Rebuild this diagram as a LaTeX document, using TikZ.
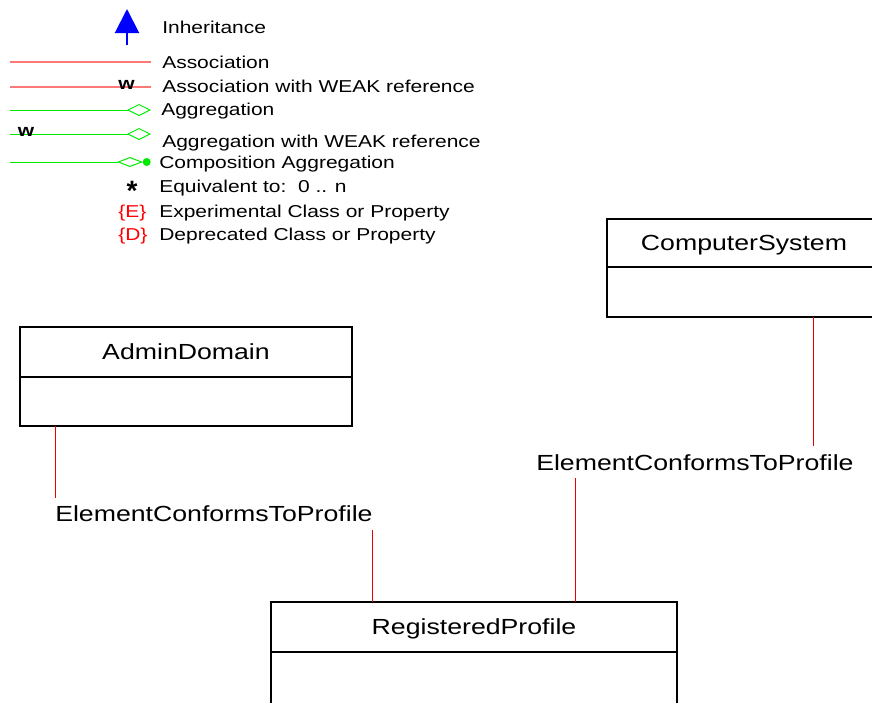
\documentclass[tikz,border=0pt]{standalone}
\usepackage{fontspec}
\setmainfont{Liberation Sans}
\usepackage{tikz}
\usetikzlibrary{arrows.meta,positioning}
\definecolor{assocred}{RGB}{235,0,0}
\definecolor{legred}{RGB}{255,120,120}
\definecolor{aggrgreen}{RGB}{0,235,0}
\newcommand{\hwide}[1]{\scalebox{1.22}[1]{#1}}
\newcommand{\clsfont}{\fontsize{16.4}{18}\selectfont}
\newcommand{\legfont}{\fontsize{12.9}{15}\selectfont}
\tikzset{
  clshead/.style={draw, line width=0.9pt, outer sep=0pt, inner sep=0pt, font=\clsfont, text height=11.8pt, text depth=0pt},
  clsbody/.style={draw, line width=0.9pt, outer sep=0pt, inner sep=0pt},
  assoc/.style={assocred, line width=0.6pt},
  assoclabel/.style={anchor=base west, inner xsep=0pt, inner ysep=6pt, font=\clsfont, text height=11.8pt, text depth=0pt},
  legtext/.style={anchor=base west, inner sep=0pt, font=\legfont},
  legw/.style={anchor=base, inner sep=0pt, font=\legfont\bfseries},
  leginh/.style={blue, line width=1.5pt, -{Triangle[length=18pt,width=18pt]}},
  legassoc/.style={legred, line width=0.8pt},
  legaggr/.style={aggrgreen, line width=0.75pt, -{Diamond[open,length=18pt,width=9pt]}},
  legcomp/.style={aggrgreen, line width=0.75pt, -{Diamond[open,length=19.5pt,width=7.5pt]}}
}

\begin{document}
\begin{tikzpicture}[x=0.75pt,y=-0.75pt]
  \useasboundingbox (0,0) rectangle (872,703);

  % legend
  \draw[leginh] (127,45) -- (127,9);
  \node[legtext] (lgInh) at (162,33) {\hwide{Inheritance}};
  \draw[legassoc] (10,62) -- (151,62);
  \node[legtext] (lgAssoc) at (162,68) {\hwide{Association}};
  \draw[legassoc] (10,87) -- (151,87);
  \node[legw] (wAssoc) at (126.5,89) {\hwide{w}};
  \node[legtext] (lgAssocW) at (162,92) {\hwide{Association with WEAK reference}};
  \draw[legaggr] (10,110) -- (151,110);
  \node[legtext] (lgAggr) at (161,115) {\hwide{Aggregation}};
  \draw[legaggr] (10,134) -- (151,134);
  \node[legw] (wAggr) at (26,136) {\hwide{w}};
  \node[legtext] (lgAggrW) at (162,147) {\hwide{Aggregation with WEAK reference}};
  \draw[legcomp] (10,162) -- (143,162);
  \fill[aggrgreen] (146.7,162) circle (3pt);
  \node[legtext] (lgComp) at (159,168) {\hwide{Composition Aggregation}};
  \node[anchor=base, inner sep=0pt, font=\bfseries\fontsize{21}{24}\selectfont] (lgStar) at (132,200) {*};
  \node[legtext] (lgEquiv) at (159,192) {\hwide{Equivalent to:\ \ 0 .. n}};
  \node[legtext, text=red] (lgE) at (118,217) {\hwide{\{E\}}};
  \node[legtext] (lgExp) at (159,217) {\hwide{Experimental Class or Property}};
  \node[legtext, text=red] (lgD) at (118,240) {\hwide{\{D\}}};
  \node[legtext] (lgDep) at (159,240) {\hwide{Deprecated Class or Property}};

  % classes
  \node[clshead, minimum width=249pt, minimum height=37.5pt] (adminHead) at (186,352) {\hwide{AdminDomain}};
  \node[clsbody, minimum width=249pt, minimum height=36.75pt, below=0pt of adminHead] (adminBody) {};
  \node[clshead, minimum width=205.5pt, minimum height=36pt] (compHead) at (744,243) {\hwide{ComputerSystem}};
  \node[clsbody, minimum width=205.5pt, minimum height=37.5pt, below=0pt of compHead] (compBody) {};
  \node[clshead, minimum width=304.5pt, minimum height=37.5pt] (regHead) at (474,627) {\hwide{RegisteredProfile}};
  \node[clsbody, minimum width=304.5pt, minimum height=60pt, below=0pt of regHead] (regBody) {};

  % associations
  \node[assoclabel] (ecpAdmin) at (55,521.7) {\hwide{ElementConformsToProfile}};
  \node[assoclabel] (ecpComp) at (536,470) {\hwide{ElementConformsToProfile}};
  \draw[assoc] (ecpAdmin.north west) -- (ecpAdmin.north west |- adminBody.south);
  \draw[assoc] (ecpAdmin.south east) -- (ecpAdmin.south east |- regHead.north);
  \coordinate[xshift=-30pt] (compTap) at (ecpComp.north east);
  \coordinate[xshift=29.25pt] (regTap) at (ecpComp.south west);
  \draw[assoc] (compTap) -- (compTap |- compBody.south);
  \draw[assoc] (regTap) -- (regTap |- regHead.north);
\end{tikzpicture}
\end{document}
